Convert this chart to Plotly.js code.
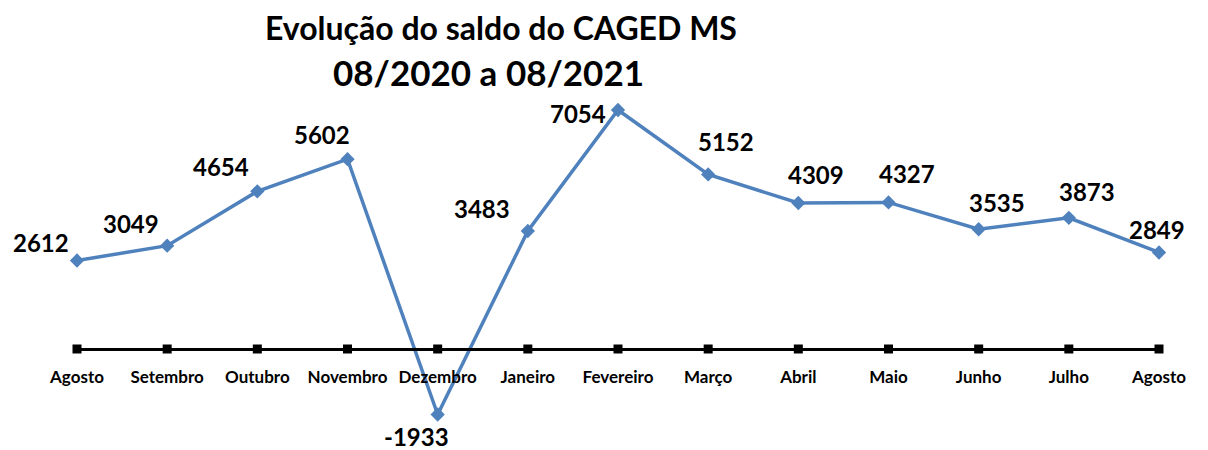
<!DOCTYPE html>
<html><head><meta charset="utf-8">
<script src="https://cdn.plot.ly/plotly-3.0.1.min.js"></script>
<style>html,body{margin:0;padding:0;background:#fff}</style>
</head><body>
<div id="chart" style="width:1208px;height:450px"></div>
<script>
const months = ["Agosto","Setembro","Outubro","Novembro","Dezembro","Janeiro","Fevereiro","Março","Abril","Maio","Junho","Julho","Agosto"];
const saldo = [2612, 3049, 4654, 5602, -1933, 3483, 7054, 5152, 4309, 4327, 3535, 3873, 2849];
const titleLines = ["Evolução do saldo do CAGED MS", "08/2020 a 08/2021"];

const idx = months.map((_, i) => i);
const FONT = "Lato, 'Open Sans', sans-serif";

// label placement per point: [xanchor, yanchor, xshift, yshift]
const place = [
  ["right","middle",-6,18],
  ["right","bottom",-6,6],
  ["right","bottom",-6,8],
  ["right","bottom",4,8],
  ["right","top",13,-6],
  ["right","bottom",-16,6],
  ["right","middle",-10,-3],
  ["left","bottom",-12,16],
  ["left","bottom",-12,12],
  ["left","bottom",-12,12],
  ["left","bottom",-12,10],
  ["left","bottom",-12,10],
  ["center","bottom",-2,6]
];

const ann = saldo.map((v, i) => ({
  x: idx[i], y: v, xref: "x", yref: "y", text: String(v), showarrow: false,
  xanchor: place[i][0], yanchor: place[i][1], xshift: place[i][2], yshift: place[i][3],
  font: {family: FONT, size: 24, color: "#000", weight: 700}
}));
ann.push({x: (501 - 77) / 1082, y: 1 - 28/450, xref: "paper", yref: "paper", text: titleLines[0], showarrow: false,
  xanchor: "center", yanchor: "middle", font: {family: FONT, size: 32, color: "#000", weight: 700}});
ann.push({x: (488 - 77) / 1082, y: 1 - 72/450, xref: "paper", yref: "paper", text: titleLines[1], showarrow: false,
  xanchor: "center", yanchor: "middle", font: {family: FONT, size: 35, color: "#000", weight: 700}});

const traces = [
  {x: idx, y: idx.map(() => 0), mode: "markers", type: "scatter", hoverinfo: "skip",
   marker: {symbol: "square", size: 9, color: "#000"}, cliponaxis: false},
  {x: idx, y: saldo, mode: "lines+markers", type: "scatter",
   line: {color: "#4F81BD", width: 3.5},
   marker: {symbol: "diamond", size: 11, color: "#4F81BD"}, cliponaxis: false}
];

const layout = {
  width: 1208, height: 450,
  margin: {l: 77, r: 49, t: 0, b: 0},
  paper_bgcolor: "#fff", plot_bgcolor: "#fff",
  showlegend: false,
  xaxis: {range: [0, 12], tickvals: idx, ticktext: months, anchor: "free", position: 101/450,
    showline: true, linecolor: "#000", linewidth: 3, showgrid: false, zeroline: false,
    ticks: "", ticklabelstandoff: 12,
    tickfont: {family: FONT, size: 17, color: "#000", weight: 700}},
  yaxis: {range: [-2981, 10301], showgrid: false, zeroline: false, showticklabels: false, showline: false},
  annotations: ann
};

Plotly.newPlot("chart", traces, layout, {displayModeBar: false, staticPlot: true});
</script>
</body></html>
